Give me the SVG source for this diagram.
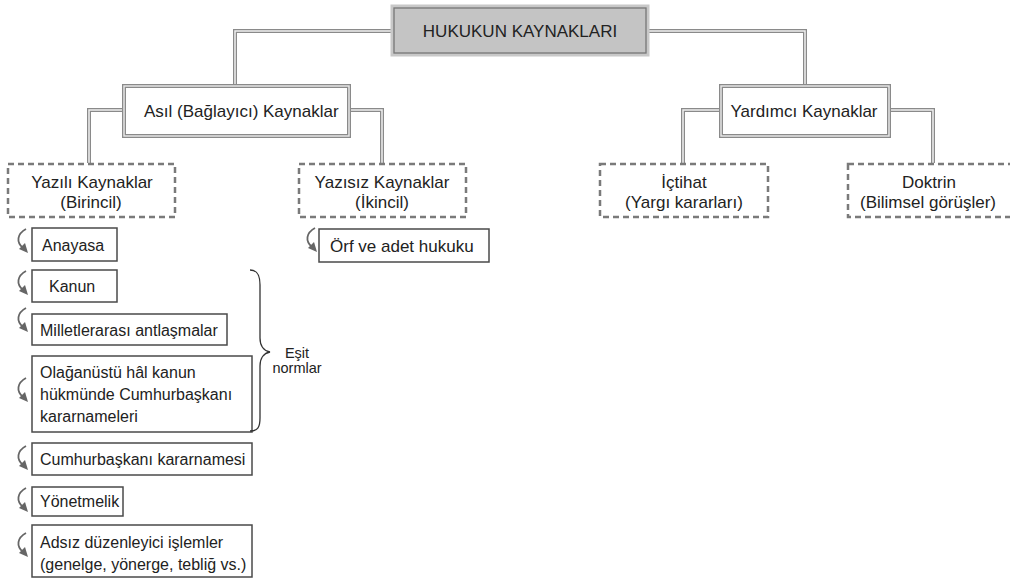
<svg xmlns="http://www.w3.org/2000/svg" width="1010" height="586" viewBox="0 0 1010 586">
<defs>
<style>
text{font-family:"Liberation Sans",Arial,sans-serif;font-size:16px;fill:#222}
.h{font-size:17px}
.c{text-anchor:middle}
.cx{fill:none;stroke:#8a8a8a;stroke-width:4}
.cx2{fill:none;stroke:#f0f0f0;stroke-width:1.5}
.dash{fill:#fff;stroke:#7a7a7a;stroke-width:2.5;stroke-dasharray:6 4}
.lb{fill:#fff;stroke:#4a4a4a;stroke-width:1.5}
.dbl{fill:#fff;stroke:#8a8a8a;stroke-width:4}
.dbl2{fill:none;stroke:#ececec;stroke-width:1.4}
.sm{font-size:14.5px}
</style>
<g id="arr">
<path d="M11 1 C2 6 1 14 8 20" fill="none" stroke="#666" stroke-width="1.8"/>
<polygon points="13,25 4,21 10,15" fill="#666"/>
</g>
</defs>

<g id="connectors">
<path class="cx" d="M392 31 H235 V84"/>
<path class="cx" d="M648 31 H805 V85"/>
<path class="cx" d="M124 110 H89 V163"/>
<path class="cx" d="M349 110 H382 V163"/>
<path class="cx" d="M721 110 H683 V163"/>
<path class="cx" d="M889 110 H933 V163"/>
<path class="cx2" d="M392 31 H235 V84"/>
<path class="cx2" d="M648 31 H805 V85"/>
<path class="cx2" d="M124 110 H89 V163"/>
<path class="cx2" d="M349 110 H382 V163"/>
<path class="cx2" d="M721 110 H683 V163"/>
<path class="cx2" d="M889 110 H933 V163"/>
</g>

<g id="root">
<rect x="392" y="6" width="256" height="49" fill="#c4c4c4" stroke="#c8c8c8" stroke-width="3"/>
<rect x="394" y="8" width="252" height="45" fill="none" stroke="#777" stroke-width="1.3"/>
<text class="c h" x="520" y="37">HUKUKUN KAYNAKLARI</text>
</g>

<g id="asil">
<rect class="dbl" x="124" y="86" width="225" height="50"/>
<rect class="dbl2" x="124" y="86" width="225" height="50"/>
<text class="h" x="144" y="117">Asıl (Bağlayıcı) Kaynaklar</text>
</g>

<g id="yardimci">
<rect class="dbl" x="721" y="86" width="168" height="50"/>
<rect class="dbl2" x="721" y="86" width="168" height="50"/>
<text class="c h" x="804" y="117">Yardımcı Kaynaklar</text>
</g>

<g id="yazili">
<rect class="dash" x="8" y="164" width="167" height="53"/>
<text class="c h" x="92" y="188">Yazılı Kaynaklar</text>
<text class="c h" x="91" y="208">(Birincil)</text>
</g>

<g id="yazisiz">
<rect class="dash" x="299" y="164" width="167" height="53"/>
<text class="c h" x="382" y="188">Yazısız Kaynaklar</text>
<text class="c h" x="382" y="208">(İkincil)</text>
</g>

<g id="ictihat">
<rect class="dash" x="600" y="164" width="168" height="53"/>
<text class="c h" x="684" y="188">İçtihat</text>
<text class="c h" x="684" y="208">(Yargı kararları)</text>
</g>

<g id="doktrin">
<rect class="dash" x="848" y="164" width="170" height="53"/>
<text class="c h" x="929" y="188">Doktrin</text>
<text class="c h" x="928" y="208">(Bilimsel görüşler)</text>
</g>

<g id="anayasa">
<use href="#arr" x="15" y="228"/>
<rect class="lb" x="32" y="228" width="85" height="33"/>
<text x="42" y="251">Anayasa</text>
</g>

<g id="kanun">
<use href="#arr" x="15" y="270"/>
<rect class="lb" x="32" y="270" width="85" height="32"/>
<text x="49" y="292">Kanun</text>
</g>

<g id="milletlerarasi">
<use href="#arr" x="15" y="307"/>
<rect class="lb" x="32" y="314" width="195" height="31"/>
<text x="40" y="336">Milletlerarası antlaşmalar</text>
</g>

<g id="olaganustu">
<use href="#arr" x="15" y="377"/>
<rect class="lb" x="32" y="356" width="220" height="76"/>
<text x="40" y="378">Olağanüstü hâl kanun</text>
<text x="40" y="400">hükmünde Cumhurbaşkanı</text>
<text x="40" y="422">kararnameleri</text>
</g>

<g id="cbk">
<use href="#arr" x="15" y="445"/>
<rect class="lb" x="32" y="443" width="220" height="32"/>
<text x="40" y="465">Cumhurbaşkanı kararnamesi</text>
</g>

<g id="yonetmelik">
<use href="#arr" x="15" y="487"/>
<rect class="lb" x="32" y="487" width="91" height="29"/>
<text x="40" y="507">Yönetmelik</text>
</g>

<g id="adsiz">
<use href="#arr" x="15" y="532"/>
<rect class="lb" x="32" y="525" width="220" height="52"/>
<text x="40" y="548">Adsız düzenleyici işlemler</text>
<text x="40" y="570">(genelge, yönerge, tebliğ vs.)</text>
</g>

<g id="orf">
<use href="#arr" x="304" y="227"/>
<rect class="lb" x="319" y="229" width="170" height="33"/>
<text class="h" x="330" y="252">Örf ve adet hukuku</text>
</g>

<g id="esit">
<path d="M250 270 C258 270 260 276 260 285 L260 338 C260 346 264 351 270 352 C264 353 260 358 260 366 L260 418 C260 427 258 431 250 431" fill="none" stroke="#333" stroke-width="1.3"/>
<text class="c sm" x="297" y="358">Eşit</text>
<text class="c sm" x="297" y="373">normlar</text>
</g>
</svg>
